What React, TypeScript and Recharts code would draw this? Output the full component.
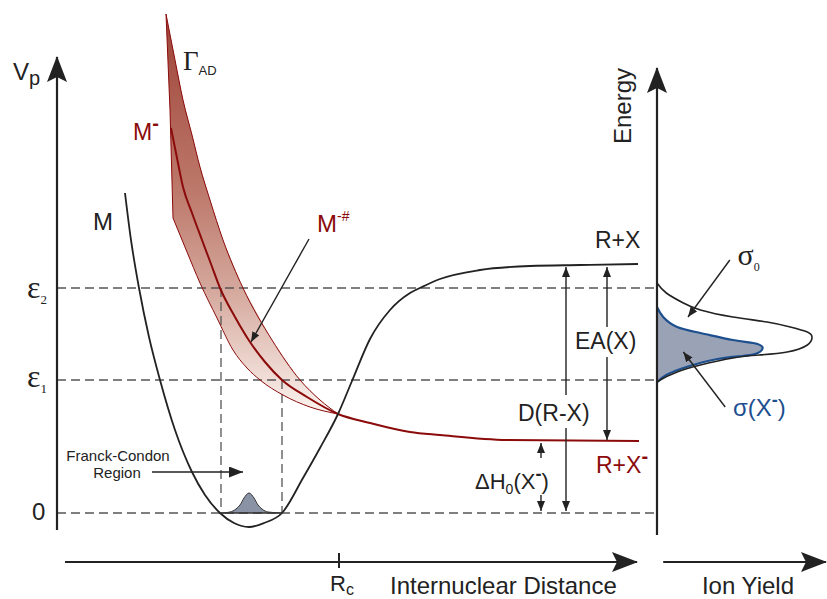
import React from 'react';
import { ComposedChart, Line, Area, XAxis, YAxis, ReferenceDot } from 'recharts';

// ---------- data (r: internuclear distance, E: energy, u: ion yield) ----------
const neutralCurve: [number, number][] = [
  [0.68, 3.2], [0.74, 2.73], [0.82, 2.25], [0.92, 1.76], [1.03, 1.33], [1.18, 0.83],
  [1.35, 0.41], [1.48, 0.18], [1.63, 0.0], [1.77, -0.1], [1.92, -0.14], [2.07, -0.1],
  [2.25, 0.0], [2.46, 0.35], [2.63, 0.65], [2.81, 0.99], [2.95, 1.32], [3.13, 1.74],
  [3.33, 2.03], [3.53, 2.2], [3.65, 2.26], [3.83, 2.34], [4.23, 2.43], [4.73, 2.47],
  [5.23, 2.48], [5.81, 2.49],
];
const anionCurve: [number, number][] = [
  [1.14, 3.85], [1.2, 3.55], [1.26, 3.26], [1.35, 3.0], [1.45, 2.73], [1.54, 2.49],
  [1.63, 2.25], [1.78, 1.96], [1.93, 1.71], [2.08, 1.51], [2.25, 1.33], [2.5, 1.16],
  [2.81, 0.99], [3.13, 0.9], [3.53, 0.81], [3.83, 0.78], [4.5, 0.73], [5.82, 0.72],
];
const bandUpperEdge: [number, number][] = [
  [1.09, 4.99], [1.18, 4.53], [1.26, 4.13], [1.35, 3.78], [1.43, 3.46], [1.53, 3.13],
  [1.66, 2.73], [1.86, 2.25], [2.15, 1.73], [2.43, 1.33], [2.63, 1.13], [2.81, 0.99],
];
const bandLowerWall: [number, number][] = [[1.09, 4.99], [1.13, 4.03], [1.16, 2.95]];
const bandLowerEdge: [number, number][] = [
  [1.16, 2.95], [1.3, 2.61], [1.43, 2.3], [1.6, 1.95], [1.76, 1.63], [1.9, 1.45],
  [2.03, 1.33], [2.26, 1.18], [2.53, 1.06], [2.81, 0.99],
];
const wavePacket: [number, number][] = [
  [1.65, 0], [1.73, 0.01], [1.79, 0.04], [1.83, 0.08], [1.87, 0.15], [1.92, 0.2],
  [1.97, 0.15], [2.01, 0.08], [2.05, 0.04], [2.11, 0.01], [2.25, 0],
];
const sigmaZero: [number, number][] = [
  [0.0, 2.3], [0.06, 2.2], [0.17, 2.1], [0.28, 2.03], [0.49, 1.96], [0.71, 1.91],
  [0.86, 1.86], [0.97, 1.81], [1.0, 1.76], [0.97, 1.68], [0.84, 1.61], [0.66, 1.58],
  [0.49, 1.55], [0.28, 1.48], [0.13, 1.41], [0.02, 1.33], [0.0, 1.3],
];
const sigmaAnion: [number, number][] = [
  [0.0, 2.06], [0.04, 1.96], [0.13, 1.86], [0.28, 1.8], [0.49, 1.73], [0.62, 1.7],
  [0.68, 1.66], [0.65, 1.6], [0.55, 1.57], [0.39, 1.54], [0.19, 1.46], [0.06, 1.38],
  [0.01, 1.32], [0.0, 1.31],
];
const energyLevels = [2.25, 1.33, 0]; // eps2, eps1, 0
const levelRX = 2.46;
const levelRXminus = 0.72;
const Rc = 2.82;
const rPanelEnd = 6.0;
const fcLeft = 1.64;
const fcRight = 2.25;

const pr = (a: [number, number][]) => a.map(([r, E]) => ({ r, E }));
const pu = (a: [number, number][]) => a.map(([u, E]) => ({ u, E }));

const bandPolygon = pr([...bandUpperEdge, ...[...bandLowerEdge].reverse(), ...[...bandLowerWall].reverse().slice(1)]);

const sans = '"Liberation Sans", Arial, Helvetica, sans-serif';
const serif = '"Liberation Serif", "Times New Roman", serif';
const RED = '#8b0a0a';
const BLUE = '#1d4f8f';
const INK = '#222';

const lineBase = { isAnimationActive: false, dot: false, activeDot: false, legendType: 'none' as const, yAxisId: 'E' };

const txt = (render: (x: number, y: number) => React.ReactNode) => (p: any) => <g>{render(p.cx, p.cy)}</g>;

export default function App() {
  const dash = { stroke: '#555', strokeWidth: 1.3, strokeDasharray: '9 5' };
  return (
    <div style={{ position: 'absolute', left: 0, top: 0, width: 827, height: 599, background: '#fff' }}>
      <ComposedChart width={827} height={599} margin={{ top: 0, right: 0, bottom: 0, left: 0 }}>
        <defs>
          <linearGradient id="bandGrad" x1="0" y1="0" x2="0" y2="1">
            <stop offset="0" stopColor="#9e4237" />
            <stop offset="0.45" stopColor="#bd7a6c" />
            <stop offset="0.7" stopColor="#d6aa9f" />
            <stop offset="0.9" stopColor="#efdbd4" />
            <stop offset="1" stopColor="#fbf4f1" />
          </linearGradient>
          <marker id="headBig" markerUnits="userSpaceOnUse" markerWidth="26" markerHeight="20" viewBox="0 0 26 20" refX="25" refY="10" orient="auto">
            <path d="M0,0 L26,10 L0,20 L5,10 Z" fill={INK} />
          </marker>
          <marker id="headMid" markerUnits="userSpaceOnUse" markerWidth="14" markerHeight="11" viewBox="0 0 14 11" refX="14" refY="5.5" orient="auto">
            <path d="M0,0 L14,5.5 L0,11 Z" fill={INK} />
          </marker>
          <marker id="headSmall" markerUnits="userSpaceOnUse" markerWidth="10" markerHeight="8" viewBox="0 0 10 8" refX="10" refY="4" orient="auto">
            <path d="M0,0 L10,4 L0,8 Z" fill={INK} />
          </marker>
        </defs>
        <XAxis xAxisId="r" type="number" dataKey="r" domain={[-0.57, 7.7]} allowDataOverflow hide />
        <XAxis xAxisId="u" type="number" dataKey="u" domain={[-4.2387, 1.0968]} allowDataOverflow hide />
        <YAxis yAxisId="E" type="number" domain={[-0.86, 5.13]} allowDataOverflow hide />

        {/* dashed energy levels */}
        {energyLevels.map((lv, i) => (
          <Line key={'lv' + i} {...lineBase} xAxisId="r" data={pr([[0, lv], [rPanelEnd, lv]])} dataKey="E" type="linear" {...dash} />
        ))}
        <Line {...lineBase} xAxisId="r" data={pr([[fcLeft, energyLevels[0]], [fcLeft, 0]])} dataKey="E" type="linear" {...dash} />
        <Line {...lineBase} xAxisId="r" data={pr([[fcRight, energyLevels[1]], [fcRight, 0]])} dataKey="E" type="linear" {...dash} />

        {/* autodetachment band */}
        <Area isAnimationActive={false} dot={false} activeDot={false} legendType="none" yAxisId="E" xAxisId="r" data={bandPolygon} dataKey="E" type="linear" baseValue={4.99} fill="url(#bandGrad)" fillOpacity={1} stroke="none" />
        <Line {...lineBase} xAxisId="r" data={pr(bandUpperEdge)} dataKey="E" type="monotone" stroke={RED} strokeWidth={1} />
        <Line {...lineBase} xAxisId="r" data={pr(bandLowerWall)} dataKey="E" type="linear" stroke={RED} strokeWidth={1} />
        <Line {...lineBase} xAxisId="r" data={pr(bandLowerEdge)} dataKey="E" type="monotone" stroke={RED} strokeWidth={1} />
        <Line {...lineBase} xAxisId="r" data={pr(anionCurve)} dataKey="E" type="monotone" stroke={RED} strokeWidth={2} />

        {/* neutral potential */}
        <Line {...lineBase} xAxisId="r" data={pr(neutralCurve)} dataKey="E" type="monotone" stroke={INK} strokeWidth={1.8} />

        {/* wave packet */}
        <Area isAnimationActive={false} dot={false} activeDot={false} legendType="none" yAxisId="E" xAxisId="r" data={pr(wavePacket)} dataKey="E" type="monotone" baseValue={0} fill="#8a93a6" fillOpacity={1} stroke="#333" strokeWidth={1} />
        <Line {...lineBase} xAxisId="r" data={pr([[fcLeft, 0], [fcRight, 0]])} dataKey="E" type="linear" stroke="#333" strokeWidth={1.6} />

        {/* axes with arrows */}
        <Line {...lineBase} xAxisId="r" data={pr([[0, -0.17], [0, 4.56]])} dataKey="E" type="linear" stroke={INK} strokeWidth={2.2} markerEnd="url(#headBig)" />
        <Line {...lineBase} xAxisId="r" data={pr([[0.08, -0.49], [5.8, -0.49]])} dataKey="E" type="linear" stroke={INK} strokeWidth={2.2} markerEnd="url(#headBig)" />
        <Line {...lineBase} xAxisId="r" data={pr([[Rc, -0.4], [Rc, -0.55]])} dataKey="E" type="linear" stroke={INK} strokeWidth={2} />
        <Line {...lineBase} xAxisId="u" data={pu([[0, -0.22], [0, 4.45]])} dataKey="E" type="linear" stroke={INK} strokeWidth={2.2} markerEnd="url(#headBig)" />
        <Line {...lineBase} xAxisId="u" data={pu([[0.04, -0.49], [1.09, -0.49]])} dataKey="E" type="linear" stroke={INK} strokeWidth={2.2} markerEnd="url(#headBig)" />

        {/* energy difference arrows */}
        <Line {...lineBase} xAxisId="r" data={pr([[5.09, 1.18], [5.09, levelRX]])} dataKey="E" type="linear" stroke={INK} strokeWidth={1.4} markerEnd="url(#headSmall)" />
        <Line {...lineBase} xAxisId="r" data={pr([[5.09, 0.85], [5.09, 0.02]])} dataKey="E" type="linear" stroke={INK} strokeWidth={1.4} markerEnd="url(#headSmall)" />
        <Line {...lineBase} xAxisId="r" data={pr([[5.5, 1.86], [5.5, levelRX]])} dataKey="E" type="linear" stroke={INK} strokeWidth={1.4} markerEnd="url(#headSmall)" />
        <Line {...lineBase} xAxisId="r" data={pr([[5.5, 1.56], [5.5, levelRXminus + 0.01]])} dataKey="E" type="linear" stroke={INK} strokeWidth={1.4} markerEnd="url(#headSmall)" />
        <Line {...lineBase} xAxisId="r" data={pr([[4.84, 0.55], [4.84, 0.7]])} dataKey="E" type="linear" stroke={INK} strokeWidth={1.4} markerEnd="url(#headSmall)" />
        <Line {...lineBase} xAxisId="r" data={pr([[4.84, 0.18], [4.84, 0.02]])} dataKey="E" type="linear" stroke={INK} strokeWidth={1.4} markerEnd="url(#headSmall)" />
        <Line {...lineBase} xAxisId="r" data={pr([[2.52, 2.74], [1.94, 1.71]])} dataKey="E" type="linear" stroke={INK} strokeWidth={1.4} markerEnd="url(#headSmall)" />
        <Line {...lineBase} xAxisId="r" data={pr([[0.95, 0.41], [1.86, 0.41]])} dataKey="E" type="linear" stroke={INK} strokeWidth={1.4} markerEnd="url(#headMid)" />

        {/* ion-yield panel */}
        <Line {...lineBase} xAxisId="u" data={pu(sigmaZero)} dataKey="E" type="natural" stroke={INK} strokeWidth={1.6} />
        <Area isAnimationActive={false} dot={false} activeDot={false} legendType="none" yAxisId="E" xAxisId="u" data={pu(sigmaAnion)} dataKey="E" type="natural" baseValue={2.06} fill="#9aa3b5" fillOpacity={1} stroke={BLUE} strokeWidth={2.2} />
        <Line {...lineBase} xAxisId="u" data={pu([[0.47, 2.53], [0.2, 1.96]])} dataKey="E" type="linear" stroke={INK} strokeWidth={1.4} markerEnd="url(#headSmall)" />
        <Line {...lineBase} xAxisId="u" data={pu([[0.44, 1.06], [0.17, 1.61]])} dataKey="E" type="linear" stroke={INK} strokeWidth={1.4} markerEnd="url(#headSmall)" />

        {/* labels */}
        <ReferenceDot xAxisId="r" yAxisId="E" x={-0.44} y={4.33} r={0} shape={txt((x, y) => (
          <text x={x} y={y} fontFamily={sans} fontSize={24} fill={INK}>V<tspan fontSize={20} dy={5}>p</tspan></text>
        ))} />
        <ReferenceDot xAxisId="r" yAxisId="E" x={-0.3} y={2.15} r={0} shape={txt((x, y) => (
          <text x={x} y={y} fontFamily={serif} fontSize={32} fill={INK}>ε<tspan fontSize={13} dy={6}>2</tspan></text>
        ))} />
        <ReferenceDot xAxisId="r" yAxisId="E" x={-0.3} y={1.26} r={0} shape={txt((x, y) => (
          <text x={x} y={y} fontFamily={serif} fontSize={32} fill={INK}>ε<tspan fontSize={13} dy={6}>1</tspan></text>
        ))} />
        <ReferenceDot xAxisId="r" yAxisId="E" x={-0.25} y={-0.07} r={0} shape={txt((x, y) => (
          <text x={x} y={y} fontFamily={sans} fontSize={24} fill={INK}>0</text>
        ))} />
        <ReferenceDot xAxisId="r" yAxisId="E" x={0.36} y={2.83} r={0} shape={txt((x, y) => (
          <text x={x} y={y} fontFamily={sans} fontSize={24} fill={INK}>M</text>
        ))} />
        <ReferenceDot xAxisId="r" yAxisId="E" x={0.76} y={3.73} r={0} shape={txt((x, y) => (
          <text x={x} y={y} fontFamily={sans} fontSize={23} fill={RED}>M<tspan fontSize={20} dy={-10} fontWeight="bold">-</tspan></text>
        ))} />
        <ReferenceDot xAxisId="r" yAxisId="E" x={1.26} y={4.43} r={0} shape={txt((x, y) => (
          <text x={x} y={y} fontFamily={serif} fontSize={27} fill={INK}>Γ<tspan fontFamily={sans} fontSize={13} dy={5}>AD</tspan></text>
        ))} />
        <ReferenceDot xAxisId="r" yAxisId="E" x={2.6} y={2.81} r={0} shape={txt((x, y) => (
          <text x={x} y={y} fontFamily={sans} fontSize={24} fill={RED}>M<tspan fontSize={14} dy={-11}>-#</tspan></text>
        ))} />
        <ReferenceDot xAxisId="r" yAxisId="E" x={5.38} y={2.65} r={0} shape={txt((x, y) => (
          <text x={x} y={y} fontFamily={sans} fontSize={23} fill={INK}>R+X</text>
        ))} />
        <ReferenceDot xAxisId="r" yAxisId="E" x={5.18} y={1.64} r={0} shape={txt((x, y) => (
          <text x={x} y={y} fontFamily={sans} fontSize={23} fill={INK}>EA(X)</text>
        ))} />
        <ReferenceDot xAxisId="r" yAxisId="E" x={4.61} y={0.92} r={0} shape={txt((x, y) => (
          <text x={x} y={y} fontFamily={sans} fontSize={23} fill={INK}>D(R-X)</text>
        ))} />
        <ReferenceDot xAxisId="r" yAxisId="E" x={5.39} y={0.4} r={0} shape={txt((x, y) => (
          <text x={x} y={y} fontFamily={sans} fontSize={23} fill={RED}>R+X<tspan fontSize={20} dy={-10} fontWeight="bold">-</tspan></text>
        ))} />
        <ReferenceDot xAxisId="r" yAxisId="E" x={4.18} y={0.24} r={0} shape={txt((x, y) => (
          <text x={x} y={y} fontFamily={sans} fontSize={22} fill={INK}>ΔH<tspan fontSize={14} dy={5}>0</tspan><tspan dy={-5}>(X</tspan><tspan fontSize={18} dy={-9} fontWeight="bold">-</tspan><tspan dy={9}>)</tspan></text>
        ))} />
        <ReferenceDot xAxisId="r" yAxisId="E" x={0.61} y={0.52} r={0} shape={txt((x, y) => (
          <text x={x} y={y} fontFamily={sans} fontSize={15} fill={INK} textAnchor="middle">Franck-Condon</text>
        ))} />
        <ReferenceDot xAxisId="r" yAxisId="E" x={0.6} y={0.35} r={0} shape={txt((x, y) => (
          <text x={x} y={y} fontFamily={sans} fontSize={15} fill={INK} textAnchor="middle">Region</text>
        ))} />
        <ReferenceDot xAxisId="r" yAxisId="E" x={5.74} y={4.07} r={0} shape={txt((x, y) => (
          <text x={x} y={y} fontFamily={sans} fontSize={24} fill={INK} textAnchor="middle" transform={`rotate(-90 ${x} ${y})`}>Energy</text>
        ))} />
        <ReferenceDot xAxisId="r" yAxisId="E" x={2.73} y={-0.78} r={0} shape={txt((x, y) => (
          <text x={x} y={y} fontFamily={sans} fontSize={22} fill={INK}>R<tspan fontSize={16} dy={4}>c</tspan></text>
        ))} />
        <ReferenceDot xAxisId="r" yAxisId="E" x={3.33} y={-0.81} r={0} shape={txt((x, y) => (
          <text x={x} y={y} fontFamily={sans} fontSize={24} fill={INK}>Internuclear Distance</text>
        ))} />
        <ReferenceDot xAxisId="u" yAxisId="E" x={0.29} y={-0.81} r={0} shape={txt((x, y) => (
          <text x={x} y={y} fontFamily={sans} fontSize={24} fill={INK}>Ion Yield</text>
        ))} />
        <ReferenceDot xAxisId="u" yAxisId="E" x={0.52} y={2.48} r={0} shape={txt((x, y) => (
          <text x={x} y={y} fontFamily={serif} fontSize={30} fill={INK}>σ<tspan fontSize={12} dy={6}>0</tspan></text>
        ))} />
        <ReferenceDot xAxisId="u" yAxisId="E" x={0.49} y={0.97} r={0} shape={txt((x, y) => (
          <text x={x} y={y} fontFamily={sans} fontSize={24} fill={BLUE}>σ(X<tspan fontSize={18} dy={-10} fontWeight="bold">-</tspan><tspan dy={10}>)</tspan></text>
        ))} />
      </ComposedChart>
    </div>
  );
}
